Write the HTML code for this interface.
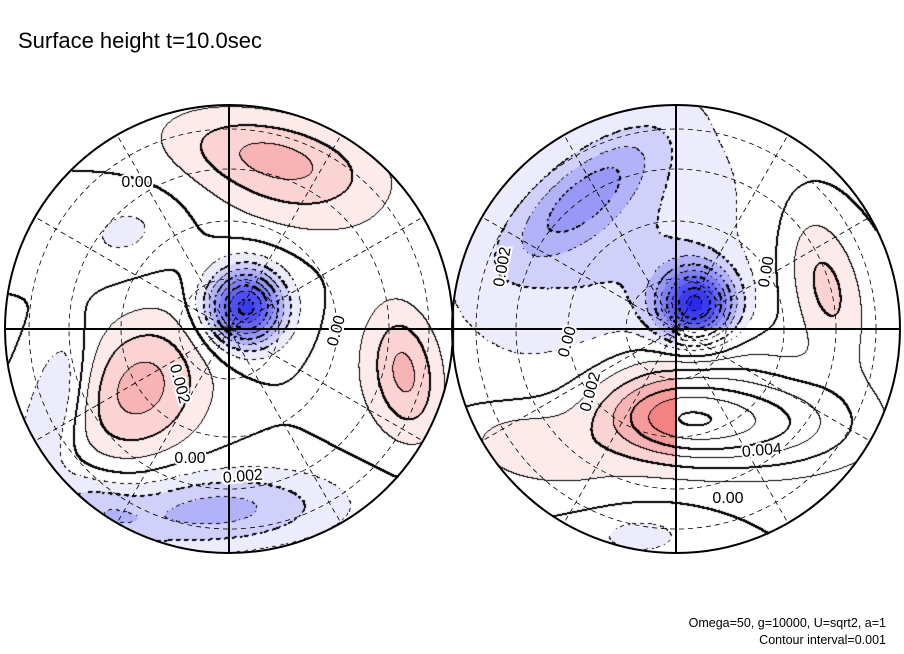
<!DOCTYPE html>
<html><head><meta charset="utf-8">
<style>
html,body{margin:0;padding:0;background:#fff;}
#wrap{position:relative;width:904px;height:654px;overflow:hidden;font-family:"Liberation Sans",sans-serif;}
canvas,svg{position:absolute;left:0;top:0;}
</style></head>
<body>
<div id="wrap">
<canvas id="cv" width="904" height="654"></canvas>
<svg id="sv" width="904" height="654">
 <text x="18" y="48" font-size="22" font-family="Liberation Sans, sans-serif">Surface height t=10.0sec</text>
 <text x="886" y="627" font-size="12.5" text-anchor="end" font-family="Liberation Sans, sans-serif">Omega=50, g=10000, U=sqrt2, a=1</text>
 <text x="886" y="644" font-size="12.5" text-anchor="end" font-family="Liberation Sans, sans-serif">Contour interval=0.001</text>
</svg>
</div>
<script>
// hemisphere definitions
const hemiNames = ['left-hemisphere','right-hemisphere'];
const hemiCx = [229, 676];
const hemiCy = [329, 329];
const hemiR = [224, 224];
// field blobs (hemisphere index, x, y, amplitude, sigma-x, sigma-y, angle deg)
const blobHemi = [0,0,0,0,0,0,0,0,0,0,0, 1,1,1,1,1,1,1,1,1,1];
const blobX   = [245,140,275,405,212,125,45,395,300,95,60, 695,585,600,665,760,825,545,640,690,520];
const blobY   = [307,388,158,372,510,232,430,375,215,505,380, 305,195,240,418,420,285,455,535,360,440];
const blobAmp = [-0.0085,0.0034,0.0033,0.0022,-0.0034,-0.0012,-0.0017,0.0011,0.0008,-0.0016,-0.0012, 0.0,-0.0028,-0.0022,0.0040,0.0040,0.0024,0.0013,-0.0013,0.0010,0.0008];
const blobSx  = [27,55,75,22,90,40,22,40,70,40,18, 27,65,120,55,75,25,60,45,60,40];
const blobSy  = [27,45,30,45,28,28,60,55,25,22,40, 27,24,85,30,35,55,28,20,25,25];
const blobAng = [0,-55,12,-10,-3,-20,20,0,10,35,10, 0,-40,-35,5,3,-15,15,0,0,0];
blobAmp[11] = -0.0085; // right vortex
// shading levels (index by contour level k, value in [k*0.001,(k+1)*0.001))
const posColors = ['#fdeaea','#fbd3d3','#f8b4b4','#f69a9a','#f48282','#f26a6a'];
const negColors = ['#ececfd','#d0d0fb','#b2b2f8','#9898f6','#7f7ff4','#6666f2','#5050f0','#3c3cee','#2a2aec','#2020ea','#1a1ae8','#1414e6'];
const interval = 0.001;
// grid
const latRadii = [50,108,160,200];
const meridianAngles = [30,60,120,150,210,240,300,330];

const cv = document.getElementById('cv');
const ctx = cv.getContext('2d');
const W = 904, H = 654;
const img = ctx.createImageData(W,H);
const d = img.data;
for(let i=0;i<d.length;i+=4){d[i]=255;d[i+1]=255;d[i+2]=255;d[i+3]=255;}
function hex(c){return [parseInt(c.substr(1,2),16),parseInt(c.substr(3,2),16),parseInt(c.substr(5,2),16)];}
const posRGB = posColors.map(hex), negRGB = negColors.map(hex);
const lev = new Int16Array(W*H).fill(-9999);
function field(h,x,y){
  let v=0;
  for(let b=0;b<blobX.length;b++){
    if(blobHemi[b]!==h) continue;
    const a=blobAng[b]*Math.PI/180, c=Math.cos(a), s=Math.sin(a);
    const dx=x-blobX[b], dy=y-blobY[b];
    const u=dx*c+dy*s, w=-dx*s+dy*c;
    v+=blobAmp[b]*Math.exp(-(u*u/(2*blobSx[b]*blobSx[b])+w*w/(2*blobSy[b]*blobSy[b])));
  }
  return v;
}
for(let h=0;h<2;h++){
  const cx=hemiCx[h], cy=hemiCy[h], R=hemiR[h];
  for(let y=cy-R;y<=cy+R;y++){
    for(let x=cx-R;x<=cx+R;x++){
      if((x-cx)*(x-cx)+(y-cy)*(y-cy)>R*R) continue;
      const v=field(h,x,y);
      const k=Math.floor(v/interval);
      lev[y*W+x]=k;
      let col=null;
      if(k>=1) col=posRGB[Math.min(k-1,posRGB.length-1)];
      else if(k<=-2) col=negRGB[Math.min(-k-2,negRGB.length-1)];
      if(h===1 && x>cx && y>cy) col=null;
      if(col){const i=(y*W+x)*4;d[i]=col[0];d[i+1]=col[1];d[i+2]=col[2];}
    }
  }
}
function setPix(x,y){if(x<0||y<0||x>=W||y>=H)return;const i=(y*W+x)*4;d[i]=0;d[i+1]=0;d[i+2]=0;}
for(let y=0;y<H-1;y++){
  for(let x=0;x<W-1;x++){
    const a=lev[y*W+x]; if(a===-9999) continue;
    const b=lev[y*W+x+1], c=lev[(y+1)*W+x];
    let L=null;
    if(b!==-9999 && b!==a) L=Math.max(a,b);
    if(c!==-9999 && c!==a) L=Math.max(L===null?-9999:L,Math.max(a,c));
    if(L===null) continue;
    if(L<0 && (((x>>2)+(y>>2))&1)) continue;
    setPix(x,y);
    if(L%2===0){setPix(x+1,y);setPix(x,y+1);}
  }
}
ctx.putImageData(img,0,0);

const NS='http://www.w3.org/2000/svg';
const sv=document.getElementById('sv');
function mk(tag,attrs){const e=document.createElementNS(NS,tag);for(const k in attrs)e.setAttribute(k,attrs[k]);sv.appendChild(e);return e;}
for(let h=0;h<2;h++){
  const cx=hemiCx[h], cy=hemiCy[h], R=hemiR[h];
  latRadii.forEach((r)=>{
    const e=mk('circle',{cx:cx,cy:cy,r:r,fill:'none',stroke:'#000','stroke-width':0.8,'stroke-dasharray':'5,4'});
    
    
  });
  meridianAngles.forEach((ang)=>{
    const a=ang*Math.PI/180;
    const e=mk('line',{x1:cx,y1:cy,x2:cx+R*Math.cos(a),y2:cy-R*Math.sin(a),stroke:'#000','stroke-width':0.8,'stroke-dasharray':'5,4'});
    
    
  });
  const hx=mk('line',{x1:cx-R,y1:cy,x2:cx+R,y2:cy,stroke:'#000','stroke-width':2});
  
  
  const vx=mk('line',{x1:cx,y1:cy-R,x2:cx,y2:cy+R,stroke:'#000','stroke-width':2});
  
  
  const oc=mk('circle',{cx:cx,cy:cy,r:R,fill:'none',stroke:'#000','stroke-width':2});
  
  
}
// contour labels
const labelText = ['0.00','0.00','0.002','0.00','0.002','0.002','0.00','0.00','0.002','0.004','0.00'];
const labelX = [137,337,179,190,243,503,568,767,591,762,728];
const labelY = [183,331,384,459,477,267,342,272,392,451,499];
const labelRot = [0,-75,75,0,-5,-80,-75,-80,-75,-5,0];
labelText.forEach((t,i)=>{
  const g=mk('text',{x:labelX[i],y:labelY[i],'font-size':16,'text-anchor':'middle','dominant-baseline':'middle',
    'font-family':'Liberation Sans, sans-serif',transform:'rotate('+labelRot[i]+' '+labelX[i]+' '+labelY[i]+')',
    stroke:'#fff','stroke-width':4,'paint-order':'stroke'});
  g.textContent=t;
  
  
});
</script>
</body></html>
